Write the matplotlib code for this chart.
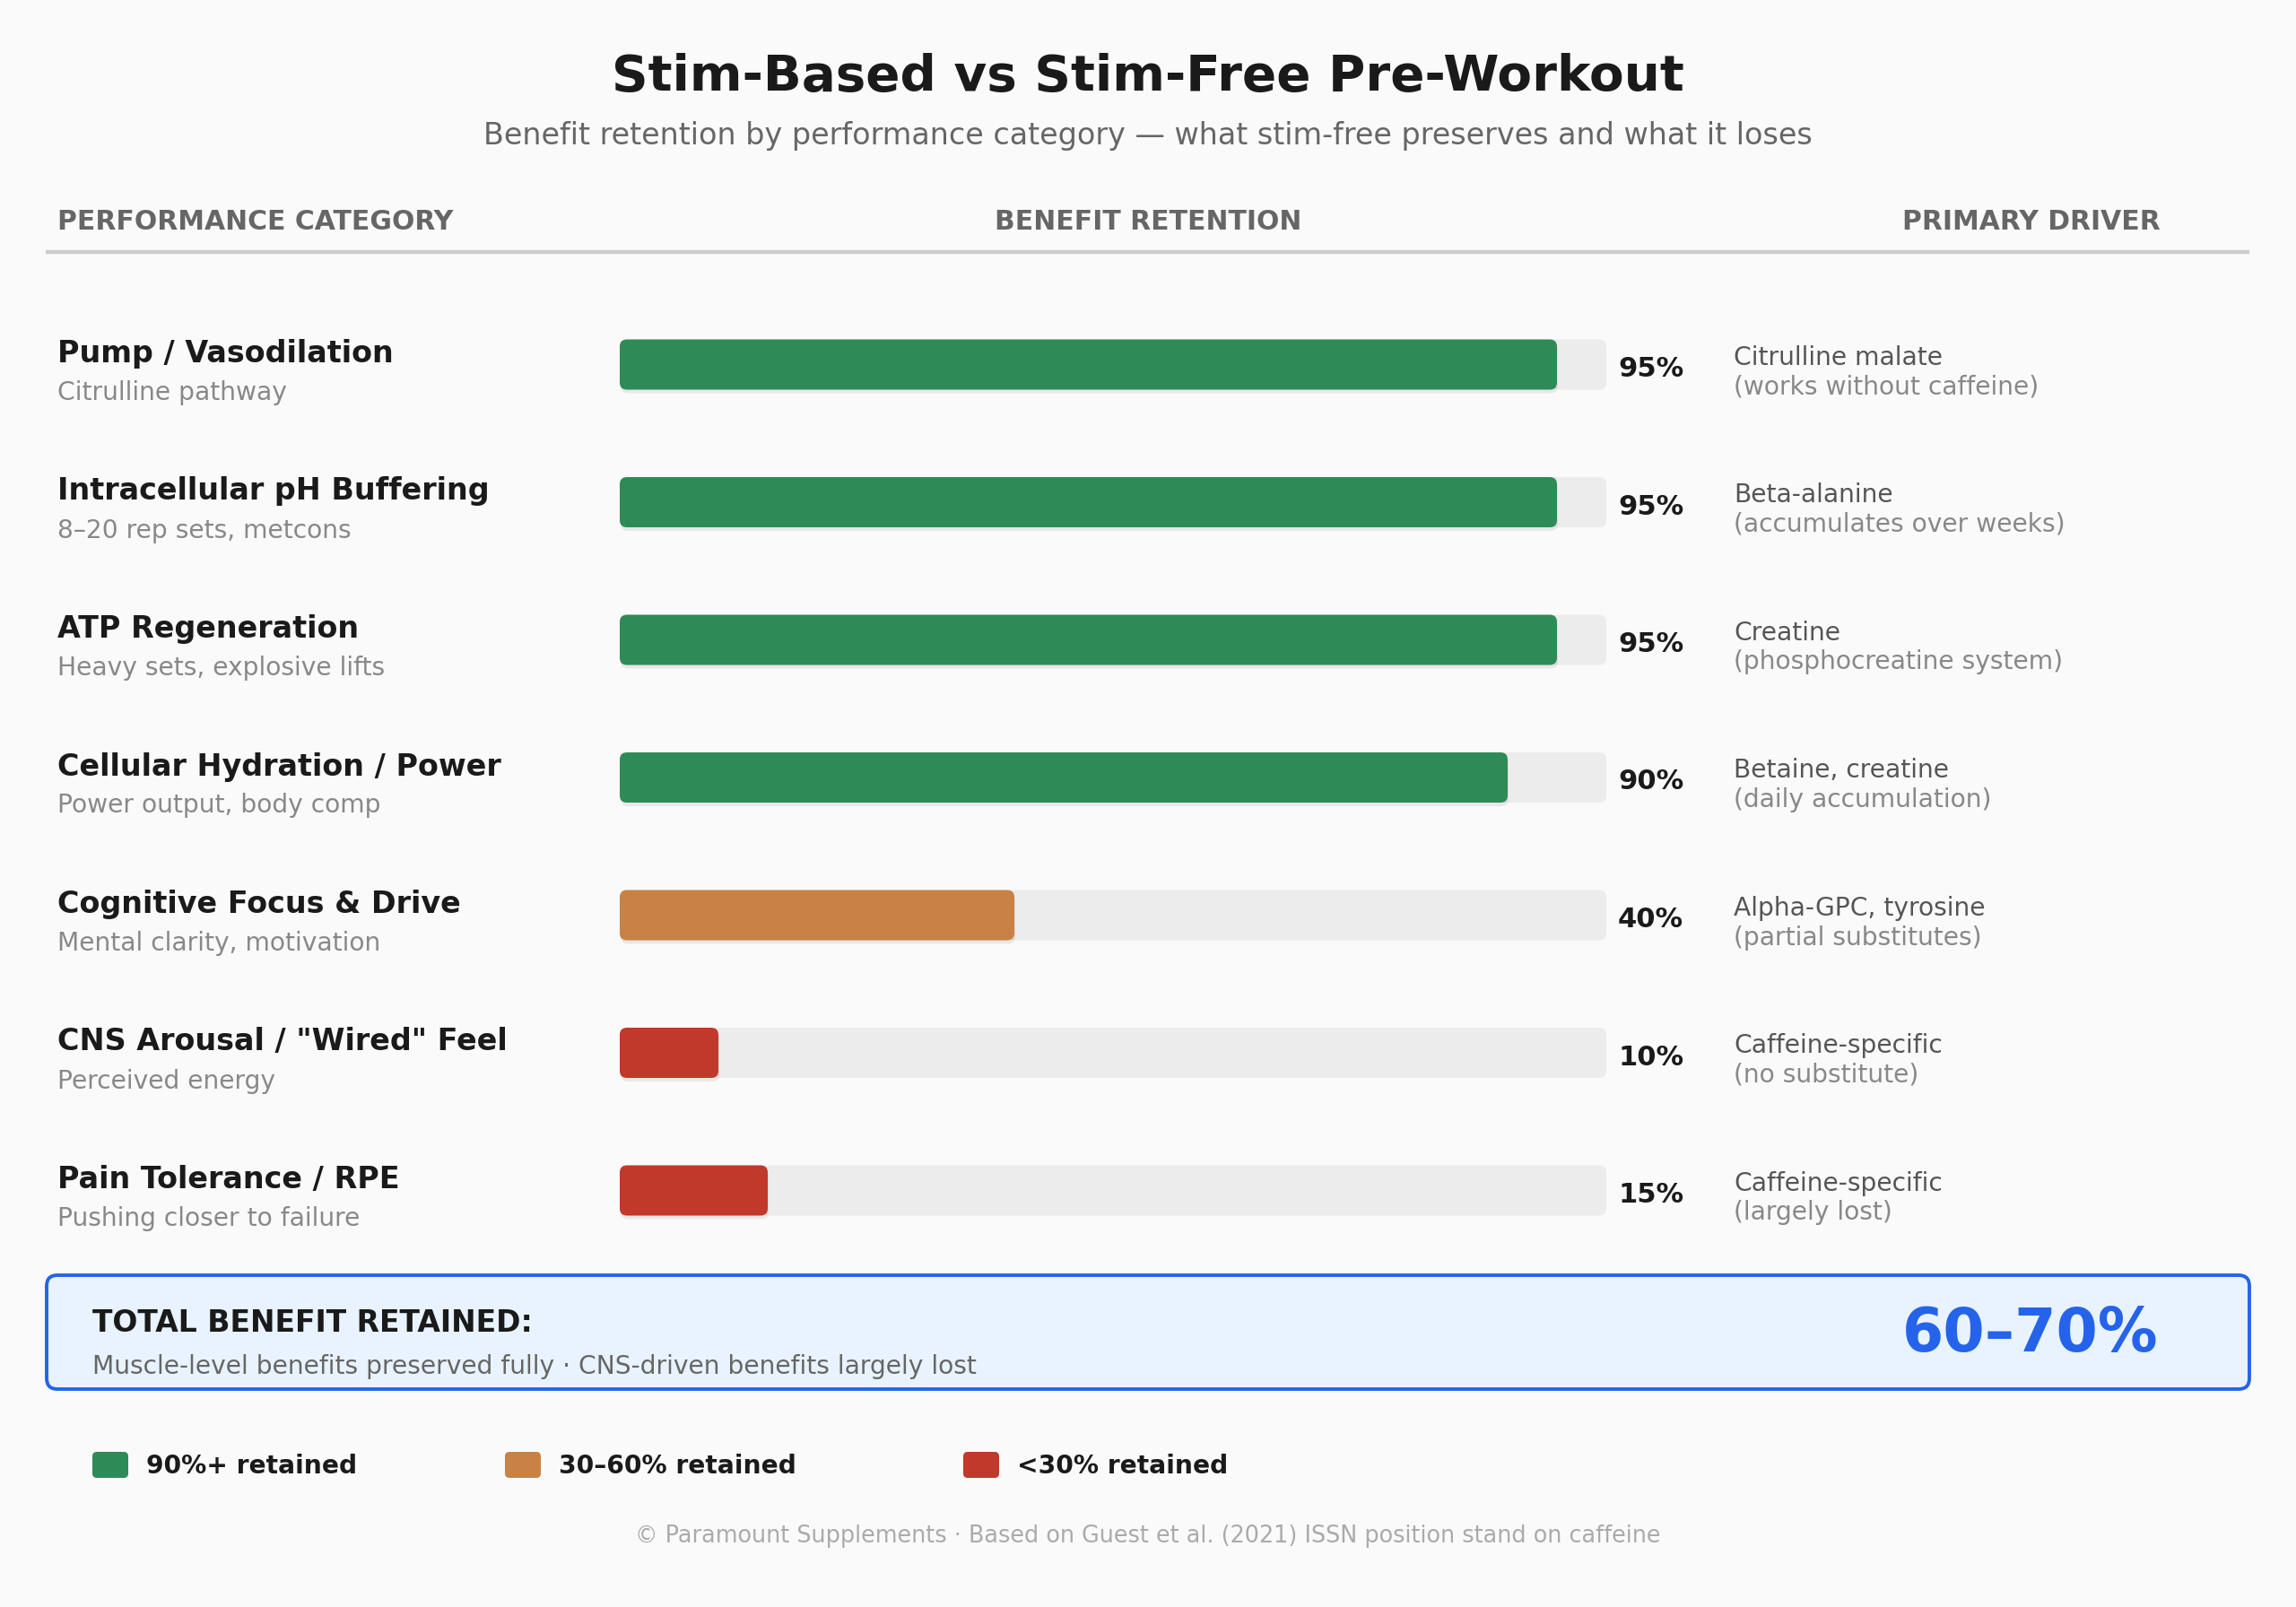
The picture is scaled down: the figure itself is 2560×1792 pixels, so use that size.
"""
Stim-based vs stim-free pre-workout: benefit retention by category.
"""
import matplotlib
matplotlib.use('Agg')
import matplotlib.pyplot as plt
from matplotlib.patches import FancyBboxPatch

# data
categories = ['Pump / Vasodilation', 'Intracellular pH Buffering', 'ATP Regeneration',
              'Cellular Hydration / Power', 'Cognitive Focus & Drive',
              'CNS Arousal / "Wired" Feel', 'Pain Tolerance / RPE']
category_notes = ['Citrulline pathway', '8\u201320 rep sets, metcons', 'Heavy sets, explosive lifts',
                  'Power output, body comp', 'Mental clarity, motivation',
                  'Perceived energy', 'Pushing closer to failure']
retention = [95, 95, 95, 90, 40, 10, 15]
drivers = ['Citrulline malate', 'Beta-alanine', 'Creatine', 'Betaine, creatine',
           'Alpha-GPC, tyrosine', 'Caffeine-specific', 'Caffeine-specific']
driver_notes = ['(works without caffeine)', '(accumulates over weeks)',
                '(phosphocreatine system)', '(daily accumulation)',
                '(partial substitutes)', '(no substitute)', '(largely lost)']
legend_labels = ['90%+ retained', '30\u201360% retained', '<30% retained']
total_range = '60\u201370%'

# colours
bg = '#fafafa'
green, orange, red = '#2e8b57', '#c98246', '#c0392b'
legend_colors = [green, orange, red]
blue = '#2563eb'

def bar_color(v):
    if v >= 90:
        return green
    if v >= 30:
        return orange
    return red

# figure in pixel coordinates
fig = plt.figure(figsize=(12.8, 8.96), dpi=200, facecolor=bg)
ax = fig.add_axes([0, 0, 1, 1])
ax.set_xlim(0, 2560)
ax.set_ylim(1792, 0)
ax.axis('off')

# titles
ax.text(1280, 101, 'Stim-Based vs Stim-Free Pre-Workout', ha='center', va='baseline',
        fontsize=20.3, weight='bold', color='#1a1a1a')
ax.text(1280, 161, 'Benefit retention by performance category \u2014 what stim-free preserves and what it loses',
        ha='center', va='baseline', fontsize=12, color='#666666')

# column headers
hdr = dict(va='baseline', fontsize=10.75, weight='bold', color='#666666')
ax.text(64, 256, 'PERFORMANCE CATEGORY', ha='left', **hdr)
ax.text(1280, 256, 'BENEFIT RETENTION', ha='center', **hdr)
ax.text(2265, 256, 'PRIMARY DRIVER', ha='center', **hdr)
ax.plot([51, 2508], [281, 281], color='#cccccc', lw=1.6, solid_capstyle='butt')

# rows
track_x, track_w, bar_h = 691, 1100, 56
row0, row_step = 406.5, 153.5
for i, v in enumerate(retention):
    yc = row0 + i * row_step
    ax.text(64, yc - 2.5, categories[i], ha='left', va='baseline', fontsize=12,
            weight='bold', color='#1a1a1a')
    ax.text(64, yc + 39.5, category_notes[i], ha='left', va='baseline', fontsize=10.15,
            color='#888888')
    # track
    ax.add_patch(FancyBboxPatch((track_x, yc - bar_h / 2), track_w, bar_h,
                                boxstyle='round,pad=0,rounding_size=8',
                                fc='#ececec', ec='none', zorder=1))
    # filled bar with soft shadow
    w = track_w * v / 100
    ax.add_patch(FancyBboxPatch((track_x + 1, yc - bar_h / 2 + 4), w, bar_h,
                                boxstyle='round,pad=0,rounding_size=8',
                                fc='black', alpha=0.07, ec='none', zorder=2))
    ax.add_patch(FancyBboxPatch((track_x, yc - bar_h / 2), w, bar_h,
                                boxstyle='round,pad=0,rounding_size=8',
                                fc=bar_color(v), ec='none', zorder=3))
    ax.text(1804, yc + 13.5, f'{v}%', ha='left', va='baseline', fontsize=11,
            weight='bold', color='#1a1a1a')
    ax.text(1933, yc + 0.5, drivers[i], ha='left', va='baseline', fontsize=10.15,
            color='#555555')
    ax.text(1933, yc + 33, driver_notes[i], ha='left', va='baseline', fontsize=10.15,
            color='#888888')

# summary box
ax.add_patch(FancyBboxPatch((52, 1422), 2456, 127,
                            boxstyle='round,pad=0,rounding_size=12',
                            fc='#e8f3ff', ec=blue, lw=1.4, zorder=1))
ax.text(103, 1485, 'TOTAL BENEFIT RETAINED:', ha='left', va='baseline', fontsize=11.9,
        weight='bold', color='#1a1a1a')
ax.text(103, 1531.5, 'Muscle-level benefits preserved fully \u00b7 CNS-driven benefits largely lost',
        ha='left', va='baseline', fontsize=10.13, color='#666666')
ax.text(2264, 1506.5, total_range, ha='center', va='baseline', fontsize=24,
        weight='bold', color=blue)

# legend
leg_x = [103, 563, 1074]
for x, lbl, c in zip(leg_x, legend_labels, legend_colors):
    ax.add_patch(FancyBboxPatch((x, 1619), 40, 29, boxstyle='round,pad=0,rounding_size=5',
                                fc=c, ec='none'))
    ax.text(x + 60, 1643, lbl, ha='left', va='baseline', fontsize=10.15,
            weight='bold', color='#1a1a1a')

# footer
ax.text(1280, 1720, '\u00a9 Paramount Supplements \u00b7 Based on Guest et al. (2021) ISSN position stand on caffeine',
        ha='center', va='baseline', fontsize=9.2, color='#aaaaaa')

fig.savefig('out.png', dpi=200, facecolor=bg)
plt.close(fig)
